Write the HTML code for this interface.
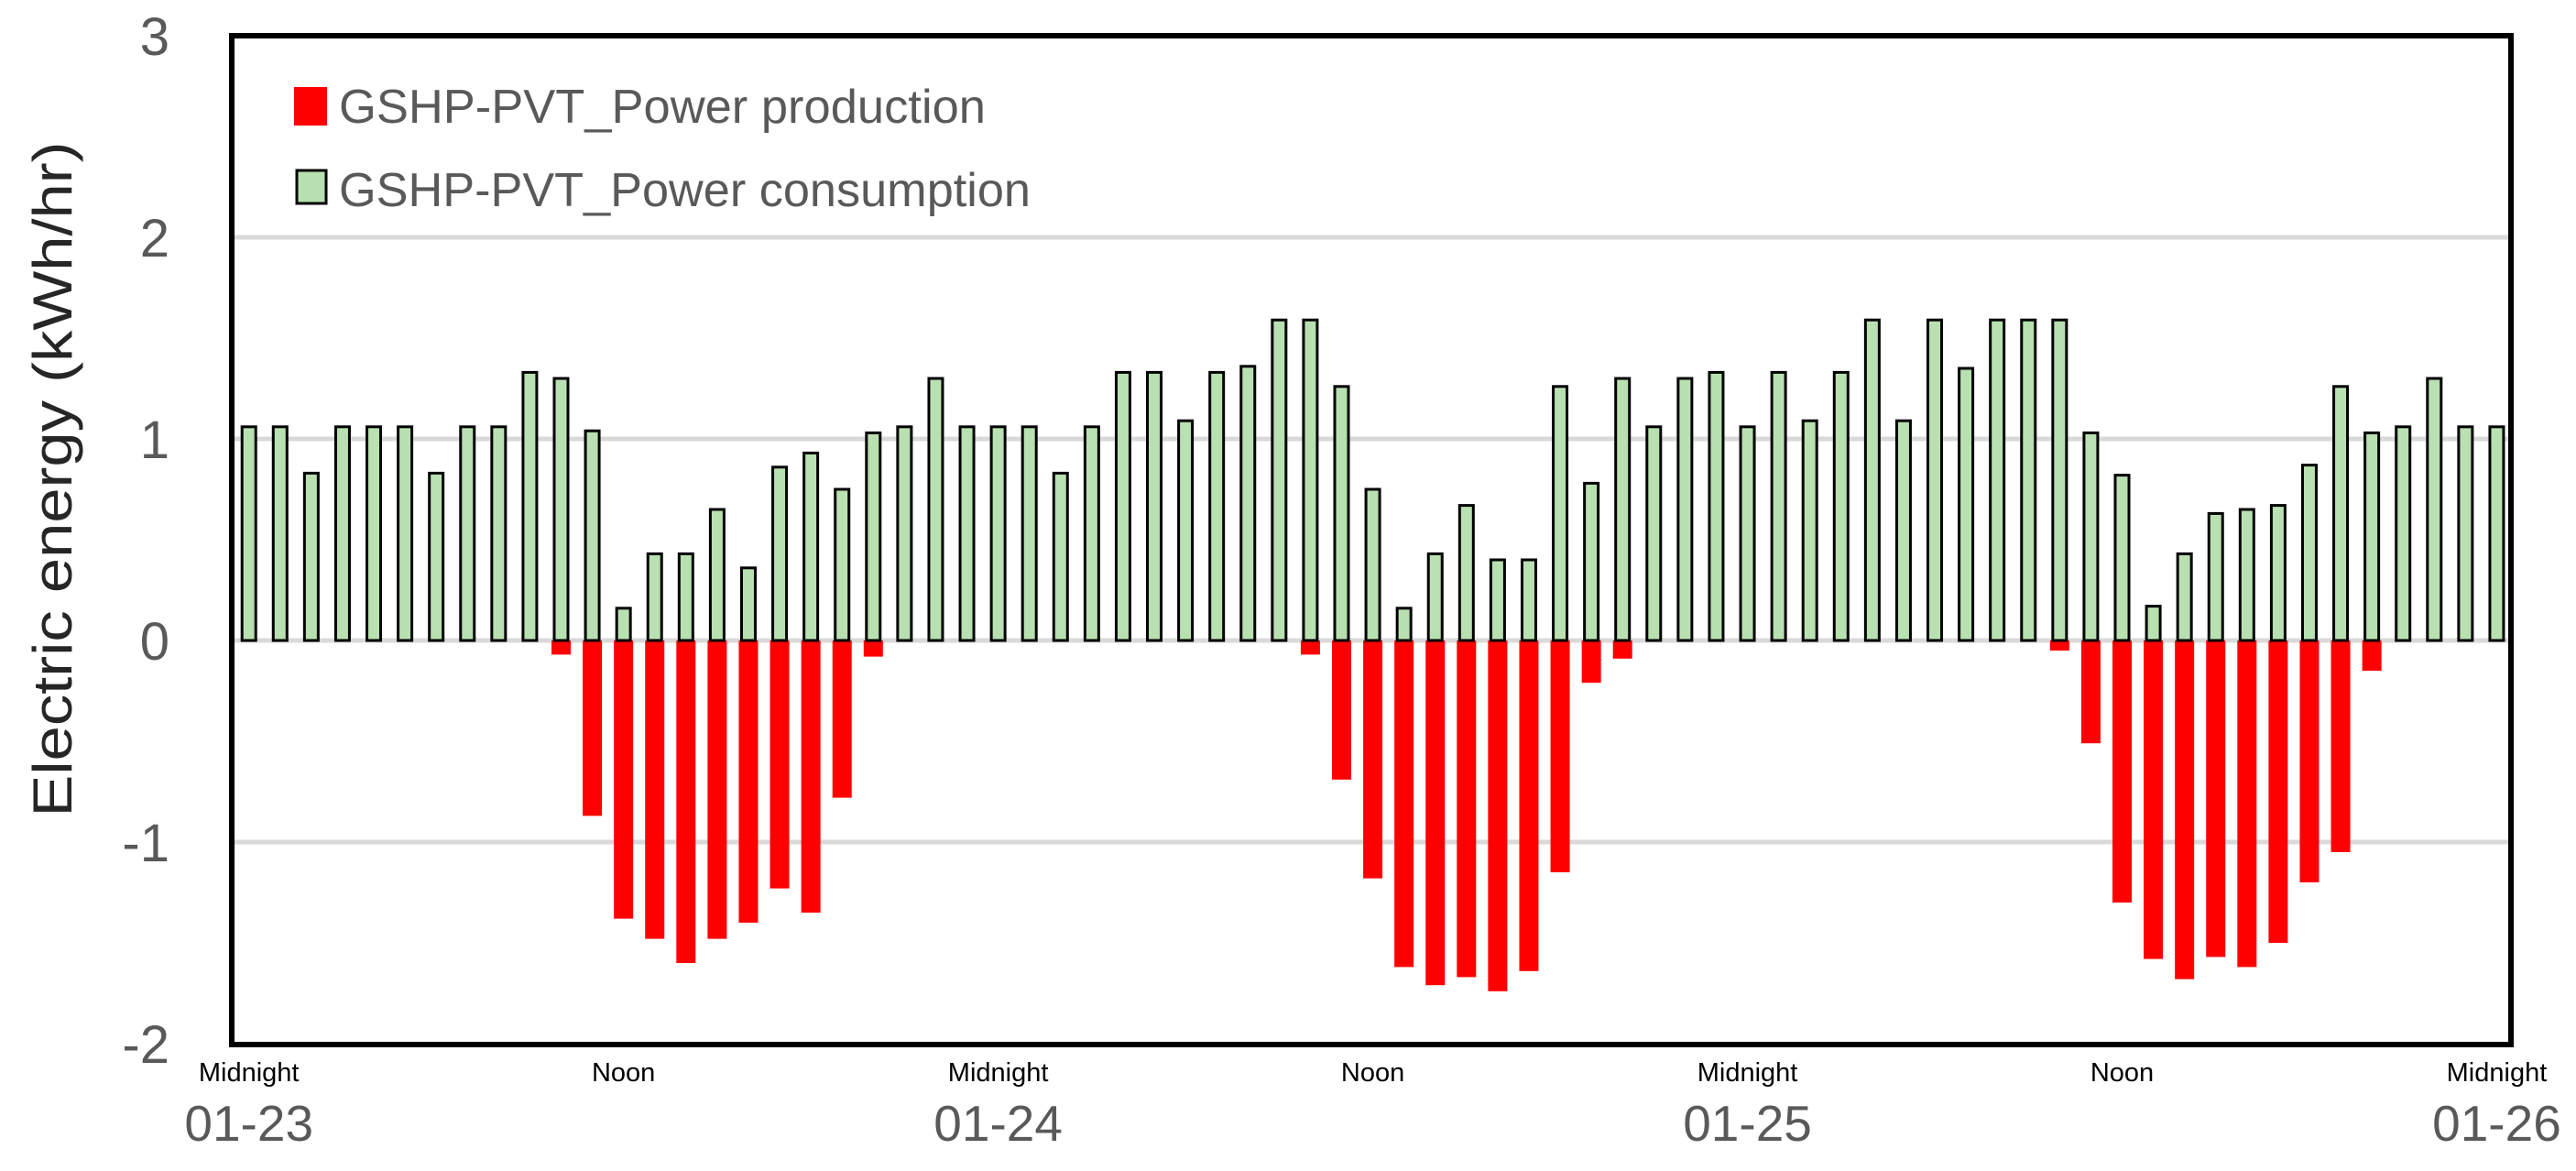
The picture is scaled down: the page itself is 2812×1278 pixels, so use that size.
<!DOCTYPE html>
<html><head><meta charset="utf-8"><style>
html,body{margin:0;padding:0;background:#fff;}
svg{display:block;}
text{font-family:"Liberation Sans",sans-serif;}
</style></head><body>
<svg id="chart" width="2812" height="1278" viewBox="0 0 2812 1278" xmlns="http://www.w3.org/2000/svg">
<g id="grid"></g>
<g id="bars"></g>
<rect x="253" y="39" width="2488" height="1101" fill="none" stroke="#000" stroke-width="6"/>
<g id="yticks"></g>
<g id="xticks"></g>
<text transform="translate(78,523) rotate(-90)" text-anchor="middle" font-size="60" textLength="737" lengthAdjust="spacingAndGlyphs" fill="#262626">Electric energy (kWh/hr)</text>
<g>
<g>
<rect x="321" y="95" width="36" height="42" fill="#ff0000"/>
<text x="370" y="134" font-size="52" textLength="706" lengthAdjust="spacingAndGlyphs" fill="#595959">GSHP-PVT_Power production</text>
</g>
<g>
<rect x="324" y="186" width="32" height="36" fill="#b8e0b0" stroke="#000" stroke-width="3"/>
<text x="370" y="225" font-size="52" textLength="755" lengthAdjust="spacingAndGlyphs" fill="#595959">GSHP-PVT_Power consumption</text>
</g>
</g>
</svg>
<script>
const consumption = [1.06,1.06,0.83,1.06,1.06,1.06,0.83,1.06,1.06,1.33,1.30,1.04,0.16,0.43,0.43,0.65,0.36,0.86,0.93,0.75,1.03,1.06,1.30,1.06,1.06,1.06,0.83,1.06,1.33,1.33,1.09,1.33,1.36,1.59,
1.59,1.26,0.75,0.16,0.43,0.67,0.40,0.40,1.26,0.78,1.30,1.06,1.30,1.33,1.06,1.33,1.09,1.33,1.59,1.09,1.59,1.35,1.59,1.59,1.59,1.03,0.82,0.17,0.43,0.63,0.65,0.67,0.87,1.26,1.03,1.06,1.30,1.06,1.06];
const production = [0,0,0,0,0,0,0,0,0,0,-0.07,-0.87,-1.38,-1.48,-1.60,-1.48,-1.40,-1.23,-1.35,-0.78,-0.08,0,0,0,0,0,0,0,0,0,0,0,0,0,
-0.07,-0.69,-1.18,-1.62,-1.71,-1.67,-1.74,-1.64,-1.15,-0.21,-0.09,0,0,0,0,0,0,0,0,0,0,0,0,0,-0.05,-0.51,-1.30,-1.58,-1.68,-1.57,-1.62,-1.50,-1.20,-1.05,-0.15,0,0,0,0];
const yTicks = [3,2,1,0,-1,-2];
const xTickIdx = [0,12,24,36,48,60,72];
const xTickTop = ["Midnight","Noon","Midnight","Noon","Midnight","Noon","Midnight"];
const xTickBottom = ["01-23","","01-24","","01-25","","01-26"];

const NS="http://www.w3.org/2000/svg";
function y(v){return 39+(3-v)*220;}
function x(i){return 271.7+i*34.08;}
function mk(tag,attrs,parent,txt){const e=document.createElementNS(NS,tag);for(const k in attrs)e.setAttribute(k,attrs[k]);if(txt!==undefined)e.textContent=txt;parent.appendChild(e);return e;}
const grid=document.getElementById('grid'),bars=document.getElementById('bars'),yt=document.getElementById('yticks'),xt=document.getElementById('xticks');
yTicks.forEach(v=>{
  if(v<3&&v>-2){const l=mk('line',{x1:253,x2:2741,y1:y(v),y2:y(v),stroke:'#d9d9d9','stroke-width':5},grid);
  
  }
  const t=mk('text',{x:185,y:y(v)+21,'text-anchor':'end','font-size':58,fill:'#595959'},yt,String(v));
  
  
});
production.forEach((v,i)=>{
  if(v===0)return;
  const r=mk('rect',{x:x(i)-10.5,y:y(0),width:21,height:y(v)-y(0),fill:'#ff0000'},bars);
  
  
});
consumption.forEach((v,i)=>{
  const r=mk('rect',{x:x(i)-7.5,y:y(v),width:15,height:y(0)-y(v),fill:'#b8e0b0',stroke:'#000','stroke-width':3},bars);
  
  
});
xTickIdx.forEach((idx,k)=>{
  const t=mk('text',{x:x(idx),y:1180,'text-anchor':'middle','font-size':29,fill:'#000'},xt,xTickTop[k]);
  
  
  if(xTickBottom[k]){
    const d=mk('text',{x:x(idx),y:1245,'text-anchor':'middle','font-size':55,fill:'#595959'},xt,xTickBottom[k]);
    
    
  }
});
</script>
</body></html>
